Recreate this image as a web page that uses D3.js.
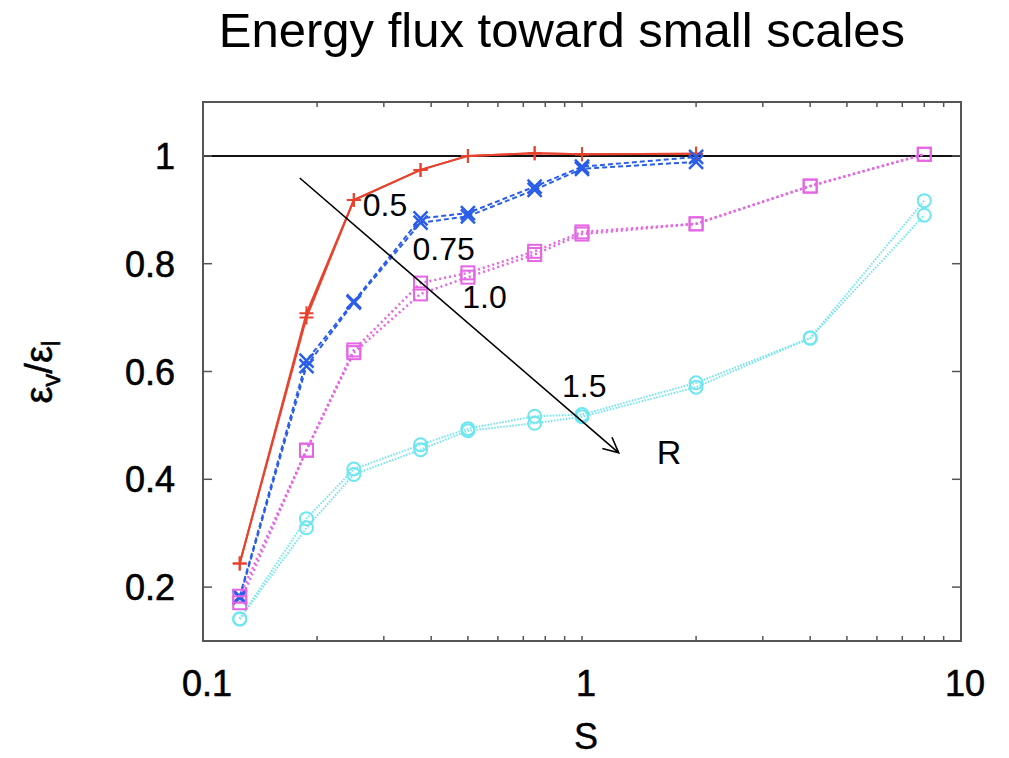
<!DOCTYPE html>
<html>
<head>
<meta charset="utf-8">
<script src="https://cdn.jsdelivr.net/npm/d3@7"></script>
<style>
  body { margin: 0; background: #fff; }
  svg { display: block; font-family: "Liberation Sans", Arial, sans-serif; }
</style>
</head>
<body>
<svg id="chart" width="1009" height="758"></svg>
<script>
// ---- data ----
const S = [0.125, 0.1875, 0.25, 0.375, 0.5, 0.75, 1, 2, 4, 8];
const red_a  = [0.244, 0.700, 0.918, 0.974, 1.000, 1.005, 1.003, 1.004];
const red_b  = [0.244, 0.708, 0.918, 0.974, 1.000, 1.005, 1.003, 1.004];
const blue_a = [0.183, 0.620, 0.730, 0.884, 0.894, 0.943, 0.980, 0.998];
const blue_b = [0.180, 0.610, 0.728, 0.876, 0.888, 0.937, 0.976, 0.989];
const mag_a  = [0.183, 0.454, 0.640, 0.764, 0.783, 0.823, 0.859, 0.874, 0.944, 1.003];
const mag_b  = [0.171, 0.454, 0.635, 0.744, 0.775, 0.817, 0.855, 0.874, 0.944, 1.003];
const cyan_a = [0.141, 0.327, 0.419, 0.464, 0.494, 0.517, 0.520, 0.579, 0.662, 0.917];
const cyan_b = [0.141, 0.310, 0.409, 0.455, 0.490, 0.504, 0.516, 0.571, 0.662, 0.890];
const xTicks = [0.1, 1, 10];
const yTicks = [0.2, 0.4, 0.6, 0.8, 1];
const annotations = [
  { text: "0.5",  s: 0.264, v: 0.888, size: 32 },
  { text: "0.75", s: 0.357, v: 0.807, size: 32 },
  { text: "1.0",  s: 0.483, v: 0.718, size: 32 },
  { text: "1.5",  s: 0.886, v: 0.553, size: 32 },
  { text: "R",    s: 1.575, v: 0.429, size: 34 }
];
const arrowFrom = { s: 0.18, v: 0.959 };
const arrowTo   = { s: 1.25, v: 0.449 };

// ---- layout ----
const svg = d3.select("#chart");
const L = 203, R = 961, T = 102, B = 641;
const x = d3.scaleLog().domain([0.1, 10]).range([L, R]);
const y = d3.scaleLinear().domain([0.1, 1.1]).range([B, T]);

const series = [
  { vals: red_a,  color: "#e8432e", dash: null,  width: 2,   marker: "plus" },
  { vals: red_b,  color: "#e8432e", dash: null,  width: 2,   marker: "plus" },
  { vals: blue_a, color: "#2a5ee8", dash: "5,3", width: 2,   marker: "cross" },
  { vals: blue_b, color: "#2a5ee8", dash: "5,3", width: 2,   marker: "cross" },
  { vals: mag_a,  color: "#e466e4", dash: "2,3", width: 2.5, marker: "square" },
  { vals: mag_b,  color: "#e466e4", dash: "2,3", width: 2.5, marker: "square" },
  { vals: cyan_a, color: "#6ee6f0", dash: "1.5,1.5", width: 2, marker: "circle" },
  { vals: cyan_b, color: "#6ee6f0", dash: "1.5,1.5", width: 2, marker: "circle" }
];

// title
svg.append("text").attr("x", 562).attr("y", 47).attr("text-anchor", "middle")
  .attr("font-size", 49).attr("fill", "#000").text("Energy flux toward small scales");

// reference line at 1
svg.append("line").attr("x1", L).attr("x2", R).attr("y1", y(1)).attr("y2", y(1))
  .attr("stroke", "#111").attr("stroke-width", 2);

// series lines
const line = d3.line().x(d => x(d[0])).y(d => y(d[1]));
series.forEach(sr => {
  const pts = sr.vals.map((v, i) => [S[i], v]);
  svg.append("path").datum(pts).attr("d", line).attr("fill", "none")
    .attr("stroke", sr.color).attr("stroke-width", sr.width)
    .attr("stroke-dasharray", sr.dash);
});
// markers
series.forEach(sr => {
  const pts = sr.vals.map((v, i) => [S[i], v]);
  const g = svg.append("g").attr("stroke", sr.color).attr("fill", "none").attr("stroke-width", 2);
  pts.forEach(p => {
    const cx = x(p[0]), cy = y(p[1]);
    if (sr.marker === "plus") {
      g.append("path").attr("d", `M${cx-7},${cy}H${cx+7}M${cx},${cy-7}V${cy+7}`);
    } else if (sr.marker === "cross") {
      g.append("path").attr("d", `M${cx-7},${cy-7}L${cx+7},${cy+7}M${cx-7},${cy+7}L${cx+7},${cy-7}`).attr("stroke-width", 2.5);
    } else if (sr.marker === "square") {
      g.append("rect").attr("x", cx-6.5).attr("y", cy-6.5).attr("width", 13).attr("height", 13);
    } else {
      g.append("circle").attr("cx", cx).attr("cy", cy).attr("r", 6.5);
    }
  });
});

// frame
svg.append("rect").attr("x", L).attr("y", T).attr("width", R-L).attr("height", B-T)
  .attr("fill", "none").attr("stroke", "#555").attr("stroke-width", 2);

// x ticks (major + minor, log) on bottom and top
const xAll = [];
for (let dec = 0.1; dec < 10; dec *= 10) for (let k = 1; k < 10; k++) xAll.push(+(dec*k).toPrecision(3));
const tg = svg.append("g").attr("stroke", "#555").attr("stroke-width", 1.5);
xAll.forEach(t => {
  if (t <= 0.1 || t >= 10) return;
  tg.append("line").attr("x1", x(t)).attr("x2", x(t)).attr("y1", B).attr("y2", B-5);
  tg.append("line").attr("x1", x(t)).attr("x2", x(t)).attr("y1", T).attr("y2", T+5);
});
yTicks.forEach(t => {
  tg.append("line").attr("x1", L).attr("x2", L+9).attr("y1", y(t)).attr("y2", y(t));
  tg.append("line").attr("x1", R).attr("x2", R-9).attr("y1", y(t)).attr("y2", y(t));
});

// tick labels
svg.append("g").selectAll("text").data(xTicks).join("text")
  .attr("x", d => x(d) + 4).attr("y", 696).attr("text-anchor", "middle")
  .attr("font-size", 36).attr("stroke", "#000").attr("stroke-width", 0.6)
  .text(d => d3.format("~g")(d));
svg.append("g").selectAll("text").data(yTicks).join("text")
  .attr("x", 175).attr("y", d => y(d) + 13).attr("text-anchor", "end")
  .attr("font-size", 36).attr("stroke", "#000").attr("stroke-width", 0.6)
  .text(d => d3.format("~g")(d));

// axis titles
svg.append("text").attr("x", 586).attr("y", 749).attr("text-anchor", "middle")
  .attr("font-size", 36).attr("stroke", "#000").attr("stroke-width", 0.4).text("S");
const yl = svg.append("text").attr("transform", "translate(52,372) rotate(-90)")
  .attr("text-anchor", "middle").attr("font-size", 38)
  .attr("stroke", "#000").attr("stroke-width", 0.5);
yl.append("tspan").text("ε");
yl.append("tspan").attr("font-size", 26).attr("dy", 8).text("v");
yl.append("tspan").attr("dy", -8).text("/ε");
yl.append("tspan").attr("font-size", 26).attr("dy", 8).text("l");

// arrow annotation
const ax1 = x(arrowFrom.s), ay1 = y(arrowFrom.v), ax2 = x(arrowTo.s), ay2 = y(arrowTo.v);
const ang = Math.atan2(ay2 - ay1, ax2 - ax1), hl = 17, ha = 0.45;
svg.append("path")
  .attr("d", `M${ax1},${ay1}L${ax2},${ay2}` +
    `M${ax2 - hl*Math.cos(ang-ha)},${ay2 - hl*Math.sin(ang-ha)}L${ax2},${ay2}` +
    `L${ax2 - hl*Math.cos(ang+ha)},${ay2 - hl*Math.sin(ang+ha)}`)
  .attr("fill", "none").attr("stroke", "#000").attr("stroke-width", 1.6);

svg.append("g").selectAll("text").data(annotations).join("text")
  .attr("x", d => x(d.s)).attr("y", d => y(d.v)).attr("font-size", d => d.size)
  .text(d => d.text);
</script>
</body>
</html>
